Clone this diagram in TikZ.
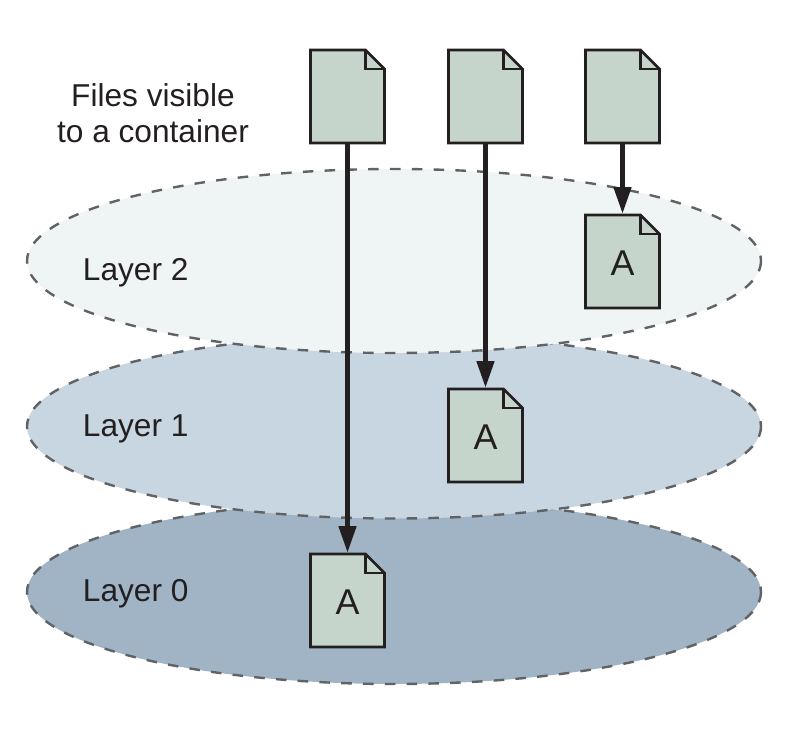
\documentclass[tikz,border=0pt]{standalone}
\usepackage{fontspec}
\setmainfont{Liberation Sans}
\usetikzlibrary{arrows.meta}

\definecolor{filegreen}{HTML}{C5D5CB}
\definecolor{layertop}{HTML}{EFF5F5}
\definecolor{layermid}{HTML}{C8D6E2}
\definecolor{layerlow}{HTML}{A0B4C6}
\definecolor{linedark}{HTML}{231F20}
\definecolor{dashgray}{HTML}{616264}

\tikzset{
  layerdisc/.style={draw=dashgray, line width=1.7pt, dash pattern=on 7.5pt off 8pt},
  layertext/.style={anchor=base west, font=\fontsize{22.5}{25}\selectfont, text=linedark},
  filebody/.style={draw=linedark, fill=filegreen, line width=1.8pt, line join=miter},
  filefold/.style={draw=linedark, line width=1.8pt},
  filebox/.style={inner sep=0pt, minimum width=1.85cm, minimum height=2.325cm, text height=20.3pt,
    font=\fontsize{25.5}{28}\selectfont, text=linedark},
  bigarrow/.style={draw=linedark, line width=3.4pt, -{Triangle[length=19pt,width=12pt]}, shorten >=0.6pt}
}

% #1 name, #2 left, #3 top, #4 text
\newcommand{\filesheet}[4]{
\draw[filebody] (#2,#3) -- ++(55,0) -- ++(19,19) -- ++(0,74) -- ++(-74,0) -- cycle;
\draw[filefold] (#2,#3) ++(55,0) -- ++(0,19) -- ++(19,0);
\path (#2,#3) ++(37,46.5) node[filebox] (#1) {#4};
}

\begin{document}
\begin{tikzpicture}[x=0.025cm,y=-0.025cm]
\useasboundingbox (0,0) rectangle (787,735);

\draw[layerdisc, fill=layerlow] (394,592) ellipse [x radius=367, y radius=92];
\draw[layerdisc, fill=layermid] (394,426.5) ellipse [x radius=367, y radius=92];
\draw[layerdisc, fill=layertop] (394,261) ellipse [x radius=367, y radius=92];

\node[layertext] (layertwo) at (78,280) {Layer 2};
\node[layertext] (layerone) at (78,436) {Layer 1};
\node[layertext] (layerzero) at (78,601) {Layer 0};
\node[align=center, text=linedark, font=\fontsize{22.5}{25.5}\selectfont] (visible) at (153,113)
{Files visible\\to a container};

\filesheet{fileone}{310.5}{50}{}
\filesheet{filetwo}{448.5}{50}{}
\filesheet{filethree}{585.5}{50}{}
\filesheet{sheetzero}{310.5}{554}{A}
\filesheet{sheetone}{448.5}{389}{A}
\filesheet{sheettwo}{585.5}{215}{A}

\draw[bigarrow] (fileone.south) -- (sheetzero.north);
\draw[bigarrow] (filetwo.south) -- (sheetone.north);
\draw[bigarrow] (filethree.south) -- (sheettwo.north);
\end{tikzpicture}
\end{document}
